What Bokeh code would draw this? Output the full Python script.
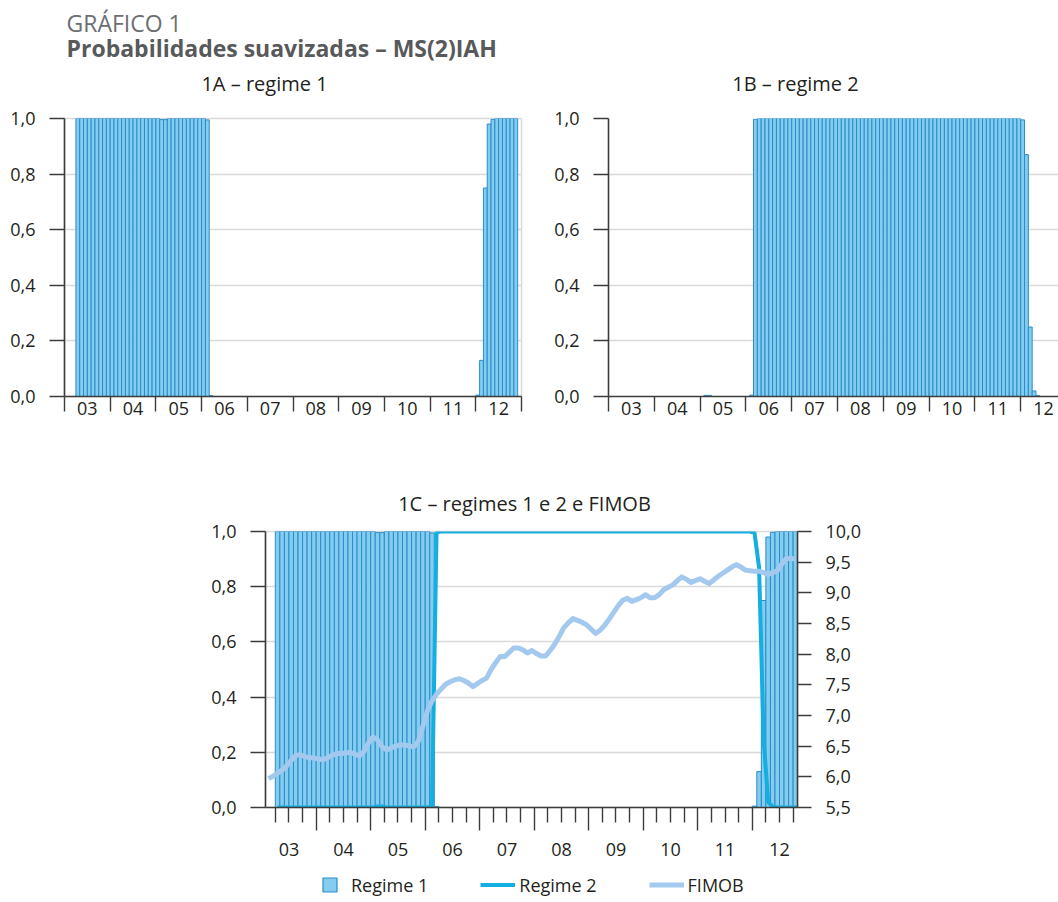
import pandas as pd
from bokeh.plotting import figure
from bokeh.models import (FixedTicker, LinearAxis, Range1d, Legend, LegendItem,
                          Spacer, CustomJSTickFormatter)
from bokeh.layouts import column, row
from bokeh.embed import file_html
from bokeh.resources import INLINE
from bokeh.core.properties import value

# ---------------- data ----------------
# smoothed probabilities, monthly, first month = April 2003
reg_first_month = "2003-04"
regime1 = ([1.0] * 22 + [0.996, 0.996] + [1.0] * 10 + [0.995] + [0.003]
           + [0.0] * 69 + [0.005, 0.13, 0.75, 0.98, 0.997] + [1.0] * 6)
regime2 = ([0.0] * 22 + [0.004, 0.004] + [0.0] * 10 + [0.005] + [0.997]
           + [1.0] * 69 + [0.995, 0.87, 0.25, 0.02, 0.003] + [0.0] * 6)

# FIMOB, monthly, first month = February 2003
fimob_first_month = "2003-02"
fimob = [5.97, 6.01, 6.06, 6.11, 6.18, 6.27, 6.35, 6.36, 6.33, 6.31,
         6.31, 6.29, 6.28, 6.31, 6.35, 6.38, 6.38, 6.39, 6.40, 6.37,
         6.34, 6.41, 6.55, 6.65, 6.60, 6.49, 6.44, 6.47, 6.50, 6.52,
         6.52, 6.50, 6.49, 6.58, 6.83, 7.08, 7.24, 7.35, 7.43, 7.51,
         7.55, 7.58, 7.60, 7.57, 7.53, 7.47, 7.52, 7.57, 7.61, 7.75,
         7.86, 7.96, 7.96, 8.03, 8.10, 8.10, 8.07, 8.02, 8.06, 8.01,
         7.97, 7.97, 8.06, 8.16, 8.29, 8.43, 8.51, 8.58, 8.55, 8.52,
         8.48, 8.41, 8.34, 8.39, 8.47, 8.57, 8.68, 8.79, 8.88, 8.91,
         8.86, 8.89, 8.92, 8.97, 8.92, 8.92, 8.97, 9.05, 9.09, 9.13,
         9.20, 9.26, 9.22, 9.17, 9.20, 9.23, 9.19, 9.15, 9.21, 9.27,
         9.32, 9.37, 9.42, 9.46, 9.42, 9.37, 9.36, 9.35, 9.35, 9.33,
         9.30, 9.33, 9.36, 9.47, 9.56, 9.56, 9.55]

years = list(range(2003, 2013))
year_labels = ["03", "04", "05", "06", "07", "08", "09", "10", "11", "12"]
prob_ticks = [0.0, 0.2, 0.4, 0.6, 0.8, 1.0]
fimob_ticks = [5.5, 6.0, 6.5, 7.0, 7.5, 8.0, 8.5, 9.0, 9.5, 10.0]

header_title = "GRÁFICO 1"
header_subtitle = "Probabilidades suavizadas – MS(2)IAH"
title_1a = "1A – regime 1"
title_1b = "1B – regime 2"
title_1c = "1C – regimes 1 e 2 e FIMOB"
legend_labels = ["Regime 1", "Regime 2", "FIMOB"]

# ---------------- styles ----------------
FONT = "Open Sans"
TXT = "#231f20"
BAR_FILL = "#84cdef"
BAR_LINE = "#2a8ccb"
REG2_COLOR = "#14aee0"
FIMOB_COLOR = "#a3c9ee"
GRID = "#d9d9d9"
AXIS = "#3c3c3c"
TICK_FS = "18px"


def month_starts(first, n):
    d = pd.date_range(first + "-01", periods=n, freq="MS")
    return [x.year + (x.month - 1) / 12 for x in d]


reg_t = month_starts(reg_first_month, len(regime1))
reg_left = reg_t
reg_right = [t + 1 / 12 for t in reg_t]
reg_mid = [t + 1 / 24 for t in reg_t]
fim_mid = [t + 1 / 24 for t in month_starts(fimob_first_month, len(fimob))]

year_mids = [y + 0.5 for y in years]
year_bounds = [y for y in years] + [years[-1] + 1]

comma_fmt = CustomJSTickFormatter(code="return tick.toFixed(1).replace('.', ',');")
yy_fmt = CustomJSTickFormatter(code="return String(Math.floor(tick) % 100).padStart(2, '0');")
blank_fmt = CustomJSTickFormatter(code="return '';")


def style_axis(ax):
    ax.axis_line_color = AXIS
    ax.axis_line_width = 1.6
    ax.major_tick_line_color = AXIS
    ax.major_tick_line_width = 1.4
    ax.minor_tick_line_color = AXIS
    ax.minor_tick_line_width = 1.4
    ax.major_tick_in = 0
    ax.minor_tick_in = 0
    ax.major_label_text_font = FONT
    ax.major_label_text_font_size = TICK_FS
    ax.major_label_text_color = TXT


def prob_figure(width, height, x0, x1, mbl, mbr, mbt, mbb):
    p = figure(width=width, height=height, x_range=Range1d(x0, x1),
               y_range=Range1d(0, 1), output_backend="svg",
               toolbar_location=None, min_border_left=mbl,
               min_border_right=mbr, min_border_top=mbt,
               min_border_bottom=mbb, title_location=None)
    p.outline_line_color = GRID
    p.outline_line_width = 1.5
    p.xgrid.visible = False
    p.ygrid.ticker = FixedTicker(ticks=prob_ticks)
    p.ygrid.grid_line_color = GRID
    p.ygrid.grid_line_width = 1.5
    ya = p.yaxis[0]
    style_axis(ya)
    ya.ticker = FixedTicker(ticks=prob_ticks)
    ya.formatter = comma_fmt
    ya.major_tick_out = 15
    ya.major_label_standoff = 14
    ya.minor_tick_line_color = None
    return p


def add_bars(p, vals):
    p.quad(left=reg_left, right=reg_right, bottom=0, top=vals,
           fill_color=BAR_FILL, line_color=BAR_LINE, line_width=1)


def year_axis_simple(p):
    xa = p.xaxis[0]
    style_axis(xa)
    xa.ticker = FixedTicker(ticks=year_mids, minor_ticks=year_bounds)
    xa.formatter = yy_fmt
    xa.major_tick_line_color = None
    xa.major_tick_out = 0
    xa.minor_tick_out = 15
    xa.major_label_standoff = -10


def text_figure(height):
    f = figure(width=1058, height=height, x_range=Range1d(0, 1058),
               y_range=Range1d(height, 0), output_backend="svg",
               toolbar_location=None, min_border=0, title_location=None,
               x_axis_location=None, y_axis_location=None)
    f.outline_line_color = None
    f.grid.grid_line_color = None
    return f


# ---------------- header ----------------
hdr = text_figure(106)
hdr.text(x=[66], y=[22], text=[header_title], text_font=value(FONT),
         text_font_size="23px", text_color="#6d6e71",
         text_baseline="alphabetic", text_align="left")
hdr.text(x=[66], y=[47], text=[header_subtitle], text_font=value(FONT),
         text_font_size="23px", text_font_style="bold", text_color="#58595b",
         text_baseline="alphabetic", text_align="left")
hdr.text(x=[264, 795], y=[83, 83], text=[title_1a, title_1b],
         text_font=value(FONT), text_font_size="20px", text_color=TXT,
         text_baseline="alphabetic", text_align="center")

# ---------------- 1A ----------------
p1 = prob_figure(540, 324, 2003.0, 2013.0, 64, 19, 12, 34)
add_bars(p1, regime1)
year_axis_simple(p1)

# ---------------- 1B ----------------
p2 = prob_figure(518, 324, 2003.0, 2012.825, 68, 0, 12, 34)
p2.outline_line_color = None
add_bars(p2, regime2)
year_axis_simple(p2)

# ---------------- 1C title ----------------
mid = text_figure(89)
mid.text(x=[524], y=[73], text=[title_1c], text_font=value(FONT),
         text_font_size="20px", text_color=TXT,
         text_baseline="alphabetic", text_align="center")

# ---------------- 1C ----------------
p3 = prob_figure(664, 348, 2003.07, 2012.83, 65, 65, 12, 60)
p3.extra_y_ranges = {"fimob": Range1d(5.5, 10.0)}
add_bars(p3, regime1)
r2 = p3.line(x=reg_mid, y=regime2, line_color=REG2_COLOR, line_width=4)
rf = p3.line(x=fim_mid, y=fimob, line_color=FIMOB_COLOR, line_width=5,
             line_join="round", y_range_name="fimob")

xa = p3.xaxis[0]
style_axis(xa)
quarters = [y + q / 4 for y in years for q in (1, 2, 3)]
xa.ticker = FixedTicker(ticks=year_bounds[1:], minor_ticks=quarters)
xa.formatter = blank_fmt
xa.major_tick_out = 23
xa.minor_tick_out = 15
xa.major_label_standoff = 0
xa.major_label_text_font_size = "0px"

xb = LinearAxis(ticker=FixedTicker(ticks=year_mids), formatter=yy_fmt)
style_axis(xb)
xb.axis_line_color = None
xb.major_tick_line_color = None
xb.minor_tick_line_color = None
xb.major_tick_out = 0
xb.major_label_standoff = 12
p3.add_layout(xb, "below")

ra = LinearAxis(y_range_name="fimob", ticker=FixedTicker(ticks=fimob_ticks),
                formatter=comma_fmt)
style_axis(ra)
ra.minor_tick_line_color = None
ra.major_tick_out = 14
ra.major_label_standoff = 14
p3.add_layout(ra, "right")

# ---------------- legend (own strip, series kept hidden there) ----------------
lf = figure(width=1058, height=35, x_range=Range1d(0, 1), y_range=Range1d(0, 1),
            output_backend="svg", toolbar_location=None, min_border=0,
            title_location=None, x_axis_location=None, y_axis_location=None)
lf.outline_line_color = None
lf.grid.grid_line_color = None
sq = lf.scatter(x=reg_mid, y=regime1, marker="square", size=14,
                fill_color=BAR_FILL, line_color=BAR_LINE, line_width=1.2,
                visible=False)
l2 = lf.line(x=reg_mid, y=regime2, line_color=REG2_COLOR, line_width=4,
             visible=False)
l3 = lf.line(x=fim_mid, y=fimob, line_color=FIMOB_COLOR, line_width=5,
             visible=False)
legend = Legend(items=[LegendItem(label=legend_labels[0], renderers=[sq]),
                       LegendItem(label=legend_labels[1], renderers=[l2]),
                       LegendItem(label=legend_labels[2], renderers=[l3])],
                orientation="horizontal", location=(312, 0),
                glyph_width=35, glyph_height=35, label_standoff=4,
                spacing=52, padding=0, margin=0, border_line_color=None,
                background_fill_alpha=0, inactive_fill_alpha=0,
                label_text_font=FONT, label_text_font_size="18px",
                label_text_color=TXT)
lf.add_layout(legend)

layout = column(hdr, row(p1, p2), mid,
                row(Spacer(width=200, height=348), p3), lf)

open("out.html", "w").write(file_html(layout, INLINE))
